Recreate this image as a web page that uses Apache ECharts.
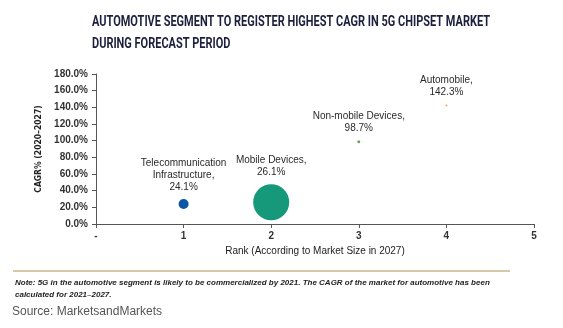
<!DOCTYPE html>
<html>
<head>
<meta charset="utf-8">
<script src="https://cdn.jsdelivr.net/npm/echarts@6/dist/echarts.min.js"></script>
<style>
  html, body { margin: 0; padding: 0; background: #fff; }
  #chart { width: 563px; height: 328px; }
</style>
</head>
<body>
<div id="chart"></div>
<script>
// Segments plotted by market-size rank (x) against CAGR (y)
const segments = ['Telecommunication\nInfrastructure', 'Mobile Devices', 'Non-mobile Devices', 'Automobile'];
const ranks = [1, 2, 3, 4];
const cagr = [24.1, 26.1, 98.7, 142.3];
const bubbleSizes = [10, 36, 3, 2];
const colors = ['#0b57a4', '#16987a', '#6aa84f', '#f4a348'];
const xTicks = ['-', '1', '2', '3', '4', '5'];

const titleLines = ['AUTOMOTIVE SEGMENT TO REGISTER HIGHEST CAGR IN 5G CHIPSET MARKET', 'DURING FORECAST PERIOD'];
const titleFont = 'bold 14.5px Roboto, Arial, sans-serif';
const titleWidth = 398;

// condense the heading so its first line spans the target width
const ctx = document.createElement('canvas').getContext('2d');
ctx.font = titleFont;
const titleScale = titleWidth / ctx.measureText(titleLines[0]).width;

const chart = echarts.init(document.getElementById('chart'), null, { renderer: 'canvas' });

const data = segments.map((name, i) => ({
  name: name,
  value: [ranks[i], cagr[i]],
  symbolSize: bubbleSizes[i],
  itemStyle: { color: colors[i], opacity: 1 }
}));

chart.setOption({
  animation: false,
  backgroundColor: '#fff',
  grid: { left: 96, right: 29, top: 74, bottom: 104, containLabel: false },
  xAxis: {
    type: 'value', min: 0, max: 5, interval: 1,
    name: 'Rank (According to Market Size in 2027)',
    nameLocation: 'middle', nameGap: 22,
    nameTextStyle: { fontFamily: 'Liberation Sans, Arial, sans-serif', fontSize: 10, color: '#222' },
    axisLine: { lineStyle: { color: '#555', width: 1 } },
    axisTick: { show: true, length: 4, lineStyle: { color: '#555' } },
    axisLabel: {
      formatter: v => xTicks[Math.round(v)], margin: 7,
      fontFamily: 'Liberation Sans, Arial, sans-serif', fontSize: 10, fontWeight: 'bold', color: '#333'
    },
    splitLine: { show: false }
  },
  yAxis: {
    type: 'value', min: 0, max: 180, interval: 20,
    name: 'CAGR% (2020–2027)',
    nameLocation: 'middle', nameGap: 52, nameRotate: 90,
    nameTextStyle: { fontFamily: 'DejaVu Sans Condensed, Arial Narrow, sans-serif', fontSize: 8.5, fontWeight: 'bold', color: '#222' },
    axisLine: { show: true, lineStyle: { color: '#555', width: 1 } },
    axisTick: { show: true, length: 4, lineStyle: { color: '#555' } },
    axisLabel: {
      formatter: v => v.toFixed(1) + '%', margin: 8,
      fontFamily: 'Liberation Sans, Arial, sans-serif', fontSize: 10, fontWeight: 'bold', color: '#333'
    },
    splitLine: { show: false }
  },
  series: [{
    type: 'scatter',
    data: data,
    label: {
      show: true, position: 'top', distance: 6,
      formatter: p => p.name + ',\n' + p.value[1].toFixed(1) + '%',
      fontFamily: 'Liberation Sans, Arial, sans-serif', fontSize: 10, color: '#2a2a2a', lineHeight: 12, align: 'center'
    },
    emphasis: { disabled: true }
  }],
  graphic: [
    { type: 'text', x: 92, y: 11, scaleX: titleScale, style: {
      text: titleLines.join('\n'), font: titleFont, fill: '#1c1f3d', lineHeight: 22 } },
    { type: 'line', shape: { x1: 13, y1: 271, x2: 510, y2: 271 }, style: { stroke: '#c8b58c', lineWidth: 1.5 } },
    { type: 'text', left: 15, top: 277, style: {
      text: 'Note: 5G in the automotive segment is likely to be commercialized by 2021. The CAGR of the market for automotive has been\ncalculated for 2021–2027.',
      font: 'italic bold 8px Liberation Sans, Arial, sans-serif', fill: '#222', lineHeight: 12 } },
    { type: 'text', left: 12, top: 306, style: {
      text: 'Source: MarketsandMarkets',
      font: '12px Liberation Sans, Arial, sans-serif', fill: '#555' } }
  ]
});
</script>
</body>
</html>
